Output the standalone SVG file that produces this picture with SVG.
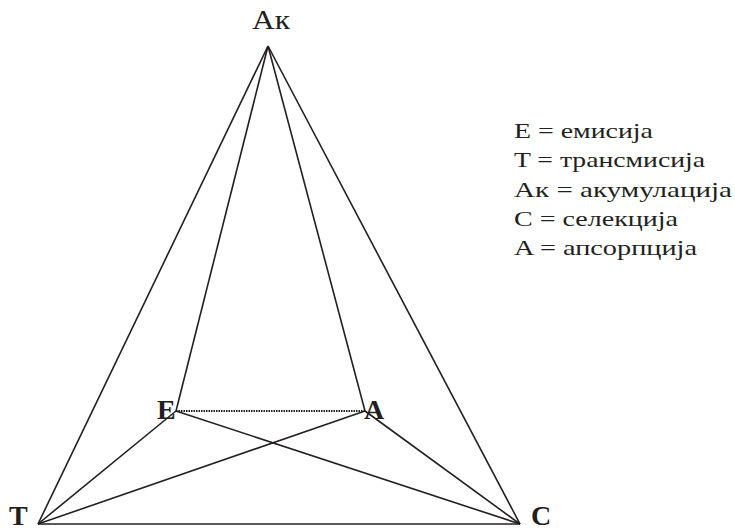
<svg xmlns="http://www.w3.org/2000/svg" width="735" height="530" viewBox="0 0 735 530">
<style>
.ln{stroke:#231f20;stroke-width:1.6;fill:none}
.dot{stroke:#231f20;stroke-width:2;stroke-dasharray:1.5 1;fill:none}
.lbl{font-family:"Liberation Serif",serif;font-size:28px;fill:#231f20}
.b{font-weight:bold}
.leg{font-family:"Liberation Serif",serif;font-size:22px;fill:#231f20}
</style>
<rect width="735" height="530" fill="#fff"/>
<g id="connectors">
<line class="ln" x1="268" y1="46" x2="38" y2="524"/>
<line class="ln" x1="268" y1="46" x2="520" y2="524"/>
<line class="ln" x1="268" y1="46" x2="176" y2="411"/>
<line class="ln" x1="268" y1="46" x2="365" y2="411"/>
<line class="ln" x1="38" y1="524" x2="520" y2="524"/>
<line class="ln" x1="176" y1="411" x2="38" y2="524"/>
<line class="ln" x1="176" y1="411" x2="520" y2="524"/>
<line class="ln" x1="365" y1="411" x2="38" y2="524"/>
<line class="ln" x1="365" y1="411" x2="520" y2="524"/>
<line class="dot" x1="176" y1="411" x2="365" y2="411"/>
</g>
<g id="node-Ak"><text class="lbl" x="252" y="29" textLength="38" lengthAdjust="spacingAndGlyphs">Ак</text></g>
<g id="node-E"><text class="lbl b" x="157" y="419">E</text></g>
<g id="node-A"><text class="lbl b" x="364" y="419">A</text></g>
<g id="node-T"><text class="lbl b" x="9" y="525">T</text></g>
<g id="node-C"><text class="lbl b" x="531" y="525">C</text></g>
<g id="legend">
<text class="leg" x="514" y="138" textLength="139" lengthAdjust="spacingAndGlyphs">E = емисија</text>
<text class="leg" x="514" y="167" textLength="191" lengthAdjust="spacingAndGlyphs">T = трансмисија</text>
<text class="leg" x="514" y="197" textLength="218" lengthAdjust="spacingAndGlyphs">Ак = акумулација</text>
<text class="leg" x="514" y="226" textLength="164" lengthAdjust="spacingAndGlyphs">C = селекција</text>
<text class="leg" x="514" y="255" textLength="183" lengthAdjust="spacingAndGlyphs">A = апсорпција</text>
</g>
</svg>
